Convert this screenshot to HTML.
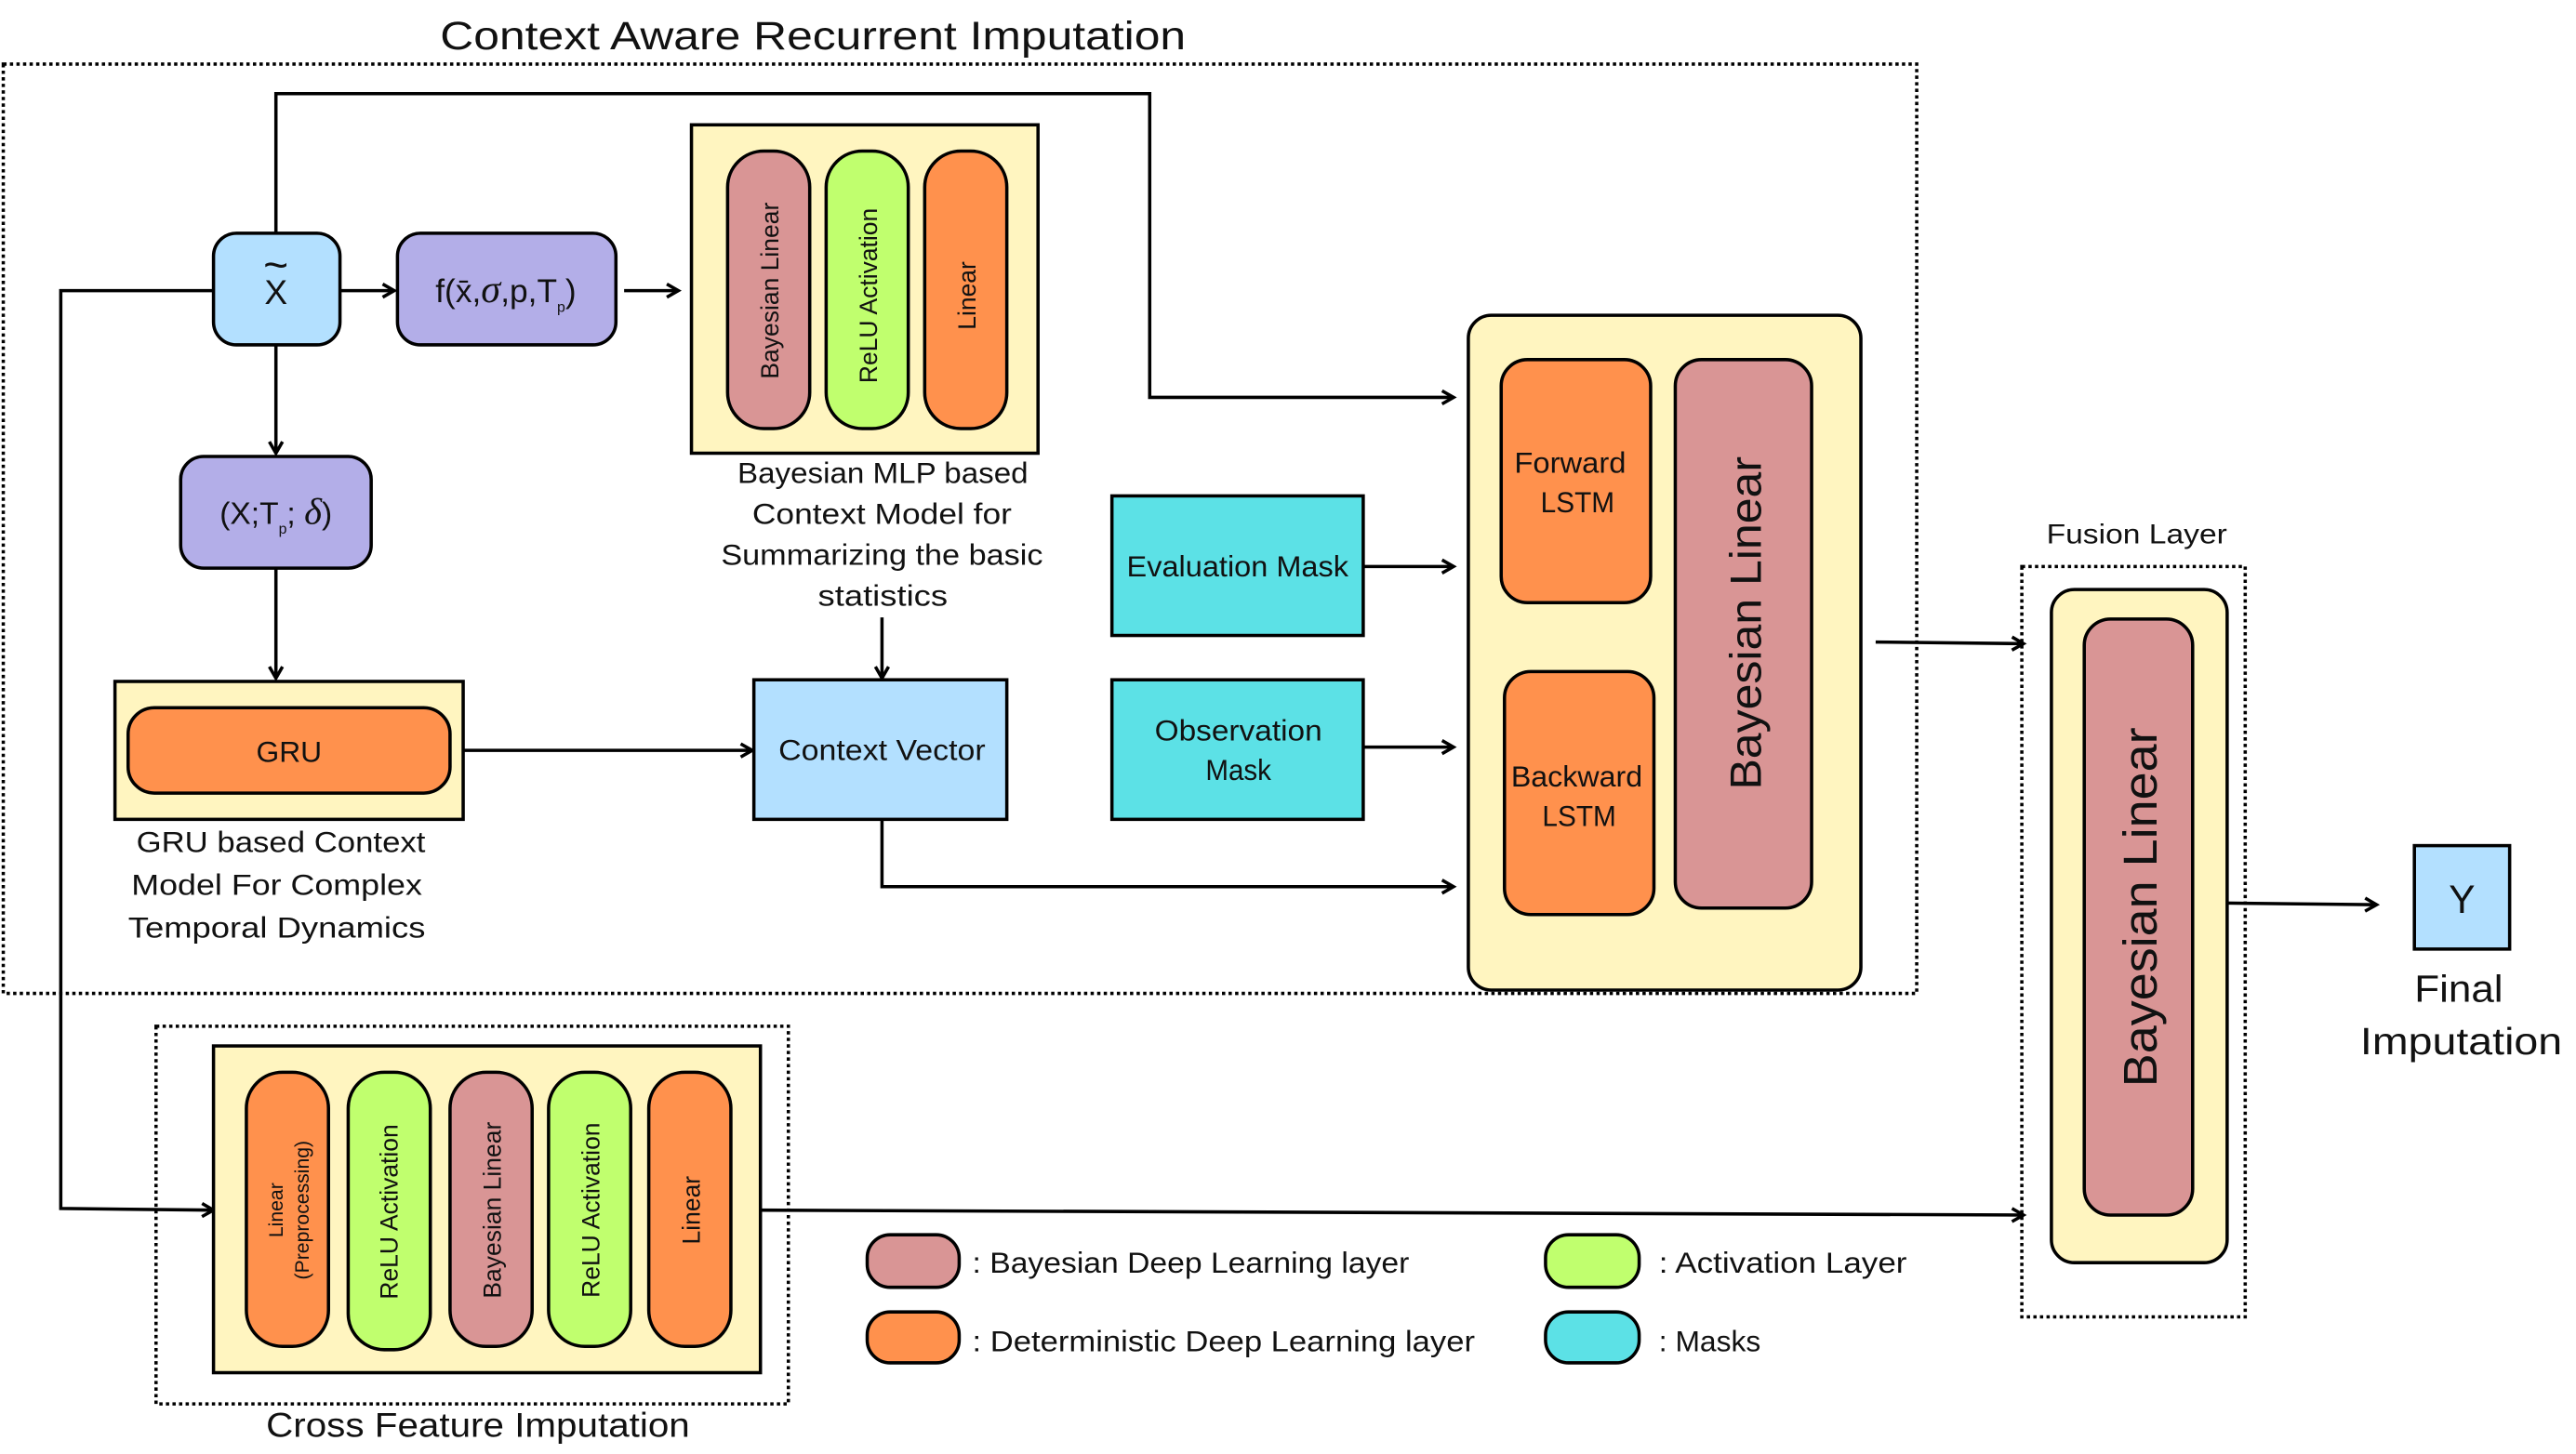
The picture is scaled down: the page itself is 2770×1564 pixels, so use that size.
<!DOCTYPE html>
<html><head><meta charset="utf-8"><style>html,body{margin:0;padding:0;background:#fff}svg{display:block}text{font-family:"Liberation Sans",sans-serif;fill:#111}</style></head>
<body>
<svg width="2770" height="1564" viewBox="0 0 1568.4 885.5" xmlns="http://www.w3.org/2000/svg">
<defs><marker id="a" markerWidth="10" markerHeight="10" refX="8" refY="5" orient="auto" markerUnits="userSpaceOnUse"><path d="M1,1 L8,5 L1,9" fill="none" stroke="#000" stroke-width="2"/></marker></defs>
<g stroke="#000" stroke-width="2" fill="none">
<rect x="2" y="39" width="1165" height="566" stroke-dasharray="2,2"/>
<rect x="95" y="625" width="385" height="230" stroke-dasharray="2,2"/>
<rect x="1231" y="345" width="136" height="457" stroke-dasharray="2,2"/>
</g>
<g lengthAdjust="spacingAndGlyphs">
<text x="268" y="30" font-size="24" textLength="454" lengthAdjust="spacingAndGlyphs">Context Aware Recurrent Imputation</text>
<text x="162" y="875" font-size="21" textLength="258" lengthAdjust="spacingAndGlyphs">Cross Feature Imputation</text>
<text x="1246" y="331" font-size="17" textLength="110" lengthAdjust="spacingAndGlyphs">Fusion Layer</text>
</g>
<g stroke="#000" stroke-width="2" fill="none">
<polyline points="168,142 168,57 700,57 700,242 885,242" marker-end="url(#a)"/>
<polyline points="130,177 37,177 37,736 130,737" marker-end="url(#a)"/>
<line x1="207" y1="177" x2="240" y2="177" marker-end="url(#a)"/>
<line x1="380" y1="177" x2="413" y2="177" marker-end="url(#a)"/>
<line x1="168" y1="210" x2="168" y2="276" marker-end="url(#a)"/>
<line x1="168" y1="346" x2="168" y2="413" marker-end="url(#a)"/>
<line x1="282" y1="457" x2="458" y2="457" marker-end="url(#a)"/>
<line x1="537" y1="376" x2="537" y2="413" marker-end="url(#a)"/>
<polyline points="537,499 537,540 885,540" marker-end="url(#a)"/>
<line x1="830" y1="345" x2="885" y2="345" marker-end="url(#a)"/>
<line x1="830" y1="455" x2="885" y2="455" marker-end="url(#a)"/>
<line x1="1142" y1="391" x2="1232" y2="392" marker-end="url(#a)"/>
<line x1="1356" y1="550" x2="1447" y2="551" marker-end="url(#a)"/>
<line x1="463" y1="737" x2="1232" y2="740" marker-end="url(#a)"/>
</g>
<g stroke="#000" stroke-width="2">
<rect x="130" y="142" width="77" height="68" rx="14" fill="#b3e0ff"/>
<rect x="242" y="142" width="133" height="68" rx="14" fill="#b3aee8"/>
<rect x="110" y="278" width="116" height="68" rx="14" fill="#b3aee8"/>
<rect x="421" y="76" width="211" height="200" fill="#fff5c0"/>
<rect x="443" y="92" width="50" height="169" rx="22" fill="#d99595"/>
<rect x="503" y="92" width="50" height="169" rx="22" fill="#c0ff6e"/>
<rect x="563" y="92" width="50" height="169" rx="22" fill="#ff914d"/>
<rect x="70" y="415" width="212" height="84" fill="#fff5c0"/>
<rect x="78" y="431" width="196" height="52" rx="16" fill="#ff914d"/>
<rect x="459" y="414" width="154" height="85" fill="#b3e0ff"/>
<rect x="677" y="302" width="153" height="85" fill="#5ce1e6"/>
<rect x="677" y="414" width="153" height="85" fill="#5ce1e6"/>
<rect x="894" y="192" width="239" height="411" rx="14" fill="#fff5c0"/>
<rect x="914" y="219" width="91" height="148" rx="16" fill="#ff914d"/>
<rect x="916" y="409" width="91" height="148" rx="16" fill="#ff914d"/>
<rect x="1020" y="219" width="83" height="334" rx="16" fill="#d99595"/>
<rect x="1249" y="359" width="107" height="410" rx="14" fill="#fff5c0"/>
<rect x="1269" y="377" width="66" height="363" rx="16" fill="#d99595"/>
<rect x="1470" y="515" width="58" height="63" fill="#b3e0ff"/>
<rect x="130" y="637" width="333" height="199" fill="#fff5c0"/>
<rect x="150" y="653" width="50" height="167" rx="22" fill="#ff914d"/>
<rect x="212" y="653" width="50" height="169" rx="22" fill="#c0ff6e"/>
<rect x="274" y="653" width="50" height="167" rx="22" fill="#d99595"/>
<rect x="334" y="653" width="50" height="167" rx="22" fill="#c0ff6e"/>
<rect x="395" y="653" width="50" height="167" rx="22" fill="#ff914d"/>
<rect x="528" y="752" width="56" height="32" rx="14" fill="#d99595"/>
<rect x="528" y="799" width="56" height="31" rx="14" fill="#ff914d"/>
<rect x="941" y="752" width="57" height="32" rx="14" fill="#c0ff6e"/>
<rect x="941" y="799" width="57" height="31" rx="14" fill="#5ce1e6"/>
</g>
<g font-size="18" text-anchor="middle">
<text x="168" y="185" font-size="21">X</text><text x="168" y="170" font-size="26">~</text>
<text x="308" y="184" font-size="20">f(x̄,<tspan font-family="Liberation Serif" font-style="italic" font-size="24">σ</tspan>,p,T<tspan font-size="9" dy="6">p</tspan><tspan dy="-6">)</tspan></text>
<text x="168" y="319" font-size="19">(X;T<tspan font-size="9" dy="6">p</tspan><tspan dy="-6">;</tspan> <tspan font-family="Liberation Serif" font-style="italic" font-size="23">δ</tspan>)</text>
<text x="176" y="464">GRU</text>
<text x="1499" y="556" font-size="24">Y</text>
</g>
<g font-size="18">
<text x="449" y="294" textLength="177" lengthAdjust="spacingAndGlyphs">Bayesian MLP based</text>
<text x="458" y="319" textLength="158" lengthAdjust="spacingAndGlyphs">Context Model for</text>
<text x="439" y="344" textLength="196" lengthAdjust="spacingAndGlyphs">Summarizing the basic</text>
<text x="498" y="369" textLength="79" lengthAdjust="spacingAndGlyphs">statistics</text>
<text x="83" y="519" textLength="176" lengthAdjust="spacingAndGlyphs">GRU based Context</text>
<text x="80" y="545" textLength="177" lengthAdjust="spacingAndGlyphs">Model For Complex</text>
<text x="78" y="571" textLength="181" lengthAdjust="spacingAndGlyphs">Temporal Dynamics</text>
<text x="474" y="463" textLength="126" lengthAdjust="spacingAndGlyphs">Context Vector</text>
<text x="686" y="351" textLength="135" lengthAdjust="spacingAndGlyphs">Evaluation Mask</text>
<text x="703" y="451" textLength="102" lengthAdjust="spacingAndGlyphs">Observation</text>
<text x="734" y="475" textLength="40" lengthAdjust="spacingAndGlyphs">Mask</text>
<text x="922" y="288" textLength="68" lengthAdjust="spacingAndGlyphs">Forward</text>
<text x="938" y="312" textLength="45" lengthAdjust="spacingAndGlyphs">LSTM</text>
<text x="920" y="479" textLength="80" lengthAdjust="spacingAndGlyphs">Backward</text>
<text x="939" y="503" textLength="45" lengthAdjust="spacingAndGlyphs">LSTM</text>
<text x="1470" y="610" font-size="23" textLength="54" lengthAdjust="spacingAndGlyphs">Final</text>
<text x="1437" y="642" font-size="23" textLength="123" lengthAdjust="spacingAndGlyphs">Imputation</text>
<text x="592" y="775" textLength="266" lengthAdjust="spacingAndGlyphs">: Bayesian Deep Learning layer</text>
<text x="592" y="823" textLength="306" lengthAdjust="spacingAndGlyphs">: Deterministic Deep Learning layer</text>
<text x="1010" y="775" textLength="151" lengthAdjust="spacingAndGlyphs">: Activation Layer</text>
<text x="1010" y="823" textLength="62" lengthAdjust="spacingAndGlyphs">: Masks</text>
</g>
<g text-anchor="middle">
<text transform="translate(474,177) rotate(-90)" font-size="15">Bayesian Linear</text>
<text transform="translate(534,180) rotate(-90)" font-size="15">ReLU Activation</text>
<text transform="translate(594,180) rotate(-90)" font-size="15">Linear</text>
<text transform="translate(172,737) rotate(-90)" font-size="12">Linear</text>
<text transform="translate(188,737) rotate(-90)" font-size="12">(Preprocessing)</text>
<text transform="translate(242,738) rotate(-90)" font-size="15">ReLU Activation</text>
<text transform="translate(305,737) rotate(-90)" font-size="15">Bayesian Linear</text>
<text transform="translate(365,737) rotate(-90)" font-size="15">ReLU Activation</text>
<text transform="translate(426,737) rotate(-90)" font-size="15">Linear</text>
</g>
<text transform="translate(1072,481) rotate(-90)" font-size="27" textLength="203" lengthAdjust="spacingAndGlyphs">Bayesian Linear</text>
<text transform="translate(1313,662) rotate(-90)" font-size="29" textLength="219" lengthAdjust="spacingAndGlyphs">Bayesian Linear</text>
</svg>
</body></html>
